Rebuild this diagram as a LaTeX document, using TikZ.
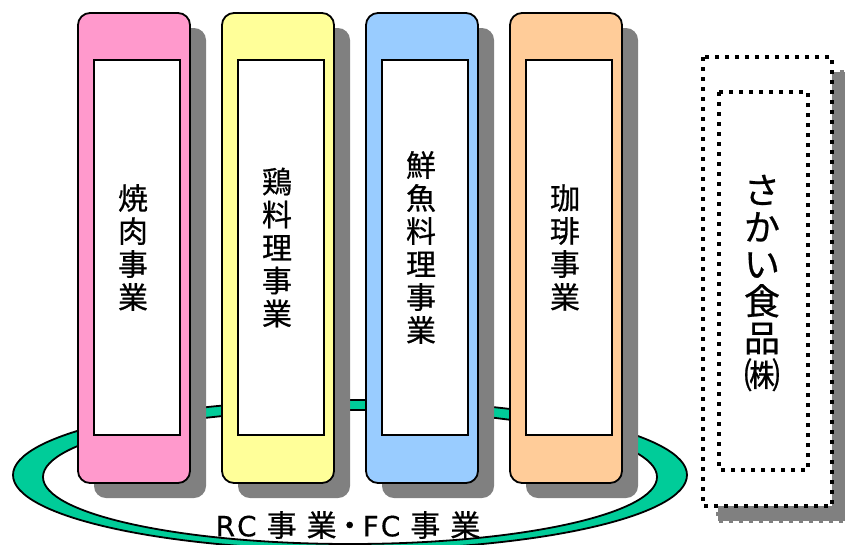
\documentclass[tikz,border=0pt]{standalone}
\usepackage{fontspec}
\newfontfamily\jpfont[FakeBold=0.6]{Noto Sans CJK JP}
\newfontfamily\latfont[FakeBold=0.4]{DejaVu Sans}
\definecolor{ringgreen}{HTML}{00CC99}
\definecolor{shadowgray}{HTML}{808080}
\definecolor{pinkfill}{HTML}{FF99CC}
\definecolor{yellowfill}{HTML}{FFFF99}
\definecolor{bluefill}{HTML}{99CCFF}
\definecolor{orangefill}{HTML}{FFCC99}
\begin{document}
\begin{tikzpicture}[x=1pt,y=-1pt,
  pillar/.style={draw=black,line width=1.8pt,rounded corners=12pt},
  pshadow/.style={fill=shadowgray,rounded corners=12pt},
  panel/.style={draw=black,fill=white,line width=1.8pt},
  vtext/.style={align=center,inner sep=0pt,font=\jpfont\fontsize{30}{33}\selectfont},
  dotline/.style={line width=4pt,dash pattern=on 4pt off 6pt},
  ringline/.style={draw=black,line width=1.8pt},
]
\useasboundingbox (0,0) rectangle (845,544);
% ring
\fill[ringgreen,even odd rule] (350,475) ellipse [x radius=337pt,y radius=75pt]
  (350,477) ellipse [x radius=307pt,y radius=67pt];
\draw[ringline] (350,475) ellipse [x radius=337pt,y radius=75pt];
\draw[ringline] (350,477) ellipse [x radius=307pt,y radius=67pt];
% pillars
\foreach \x/\c in {78/pinkfill,222/yellowfill,366/bluefill,510/orangefill}{
  \fill[pshadow] (\x+16,28) rectangle (\x+128,498);
  \draw[pillar,fill=\c] (\x,13) rectangle (\x+112,483);
  \draw[panel] (\x+16,60) rectangle (\x+102,435);
}
\node[vtext] (t1) at (133,247.5) {焼\\肉\\事\\業};
\node[vtext] (t2) at (277,247.5) {鶏\\料\\理\\事\\業};
\node[vtext] (t3) at (421,247.5) {鮮\\魚\\料\\理\\事\\業};
\node[vtext] (t4) at (565,247.5) {珈\\琲\\事\\業};
% company box
\fill[shadowgray] (718,72) rectangle (847,521);
\draw[shadowgray,dotline] (718,72) rectangle (847,521);
\draw[dotline,fill=white] (703,57) rectangle (832,506);
\draw[dotline] (719,92) rectangle (808,470);
\node[align=center,inner sep=0pt,font=\jpfont\fontsize{36}{37}\selectfont] (co) at (762,283) {さ\\か\\い\\食\\品\\㈱};
% caption
\node[inner sep=0pt,font=\jpfont\fontsize{30}{32}\selectfont] (cap) at (348,525)
  {{\latfont\fontsize{28}{32}\selectfont R\kern2pt C}\kern10pt 事\kern10pt 業\kern-2pt ・\kern-2pt{\latfont\fontsize{28}{32}\selectfont F\kern2pt C}\kern10pt 事\kern10pt 業};
\end{tikzpicture}
\end{document}
